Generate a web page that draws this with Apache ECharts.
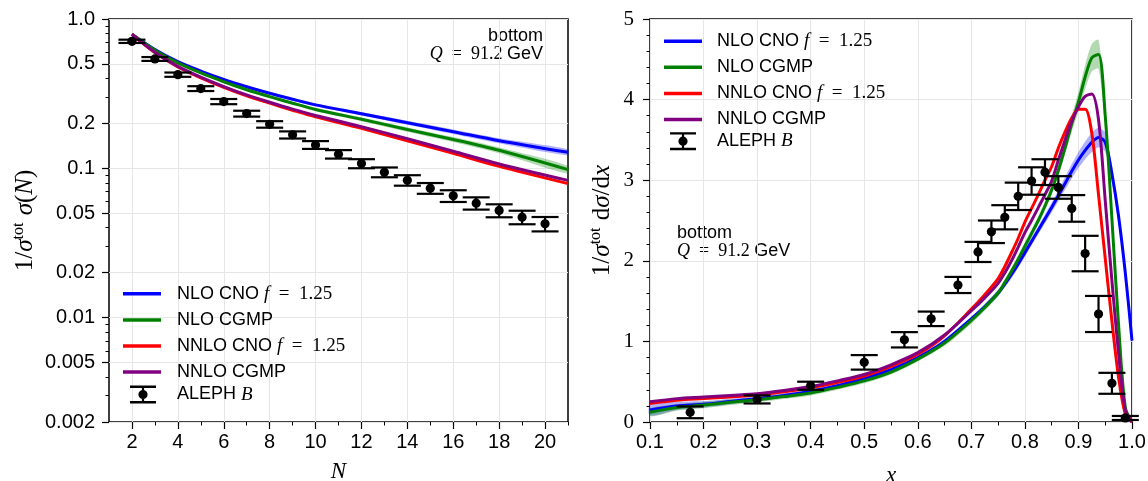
<!DOCTYPE html>
<html>
<head>
<meta charset="utf-8">
<title>bottom fragmentation</title>
<script src="https://cdn.jsdelivr.net/npm/echarts@6/dist/echarts.min.js"></script>
<style>
html, body { margin: 0; padding: 0; background: #fff; }
#chart { width: 1148px; height: 481px; }
</style>
</head>
<body>
<div id="chart"></div>
<script>
// ---- left panel: moments 1/sigma sigma(N) ----
var momentN = [2, 3, 4, 5, 6, 7, 8, 9, 10, 12, 14, 16, 18, 21];
var momNloCno   = [0.79, 0.624, 0.518, 0.448, 0.394, 0.352, 0.318, 0.290, 0.266, 0.232, 0.202, 0.176, 0.153, 0.128];
var momNloCgmp  = [0.79, 0.618, 0.508, 0.435, 0.380, 0.336, 0.302, 0.273, 0.248, 0.213, 0.182, 0.156, 0.132, 0.098];
var momNnloCno  = [0.79, 0.596, 0.478, 0.404, 0.349, 0.306, 0.273, 0.245, 0.221, 0.185, 0.153, 0.126, 0.103, 0.079];
var momNnloCgmp = [0.79, 0.599, 0.482, 0.408, 0.353, 0.310, 0.277, 0.249, 0.226, 0.190, 0.158, 0.130, 0.107, 0.083];
var momBandCno  = [0.005, 0.005, 0.005, 0.005, 0.006, 0.006, 0.006, 0.006, 0.006, 0.006, 0.006, 0.006, 0.006, 0.006];
var momBandCgmp = [0.005, 0.005, 0.005, 0.005, 0.006, 0.006, 0.006, 0.006, 0.006, 0.006, 0.006, 0.006, 0.006, 0.006];

var alephN   = [2, 3, 4, 5, 6, 7, 8, 9, 10, 11, 12, 13, 14, 15, 16, 17, 18, 19, 20];
var alephMom = [0.709, 0.540, 0.424, 0.342, 0.280, 0.2325, 0.197, 0.1675, 0.1435, 0.1243, 0.1076,
                0.0942, 0.0832, 0.0736, 0.0654, 0.0584, 0.0522, 0.0471, 0.0425];
var alephMomErr = [0.018, 0.016, 0.014, 0.0127, 0.0112, 0.0105, 0.0099, 0.0092, 0.0086, 0.0081, 0.0075,
                   0.0071, 0.0067, 0.0061, 0.0059, 0.0055, 0.0052, 0.0049, 0.0047];

var leftYTicks  = [0.002, 0.005, 0.01, 0.02, 0.05, 0.1, 0.2, 0.5, 1.0];
var leftYMinor  = [0.003, 0.004, 0.006, 0.007, 0.008, 0.009, 0.03, 0.04, 0.06, 0.07, 0.08, 0.09,
                   0.3, 0.4, 0.6, 0.7, 0.8, 0.9];
var leftXTicks  = [2, 4, 6, 8, 10, 12, 14, 16, 18, 20];
var leftXMinor  = [3, 5, 7, 9, 11, 13, 15, 17, 19, 21];

// ---- right panel: distribution 1/sigma dsigma/dx ----
var distX = [0.1, 0.15, 0.2, 0.25, 0.3, 0.35, 0.4, 0.45, 0.5, 0.55, 0.6, 0.65, 0.7, 0.725,
             0.75, 0.7625, 0.775, 0.7875, 0.8, 0.8125, 0.825, 0.8375, 0.85, 0.8625, 0.875, 0.8875,
             0.9, 0.9125, 0.925, 0.9375, 0.95, 0.9625, 0.975, 0.9875, 1.0];
var distNloCno   = [0.15, 0.20, 0.22, 0.255, 0.29, 0.33, 0.38, 0.45, 0.54, 0.65, 0.80, 1.00, 1.28, 1.43,
                    1.60, 1.71, 1.83, 1.96, 2.10, 2.24, 2.38, 2.52, 2.66, 2.81, 2.96, 3.11,
                    3.25, 3.37, 3.47, 3.53, 3.47, 3.08, 2.55, 1.85, 1.01];
var distNloCgmp  = [0.12, 0.18, 0.21, 0.245, 0.275, 0.315, 0.36, 0.43, 0.51, 0.62, 0.78, 0.98, 1.26, 1.42,
                    1.60, 1.73, 1.87, 2.02, 2.18, 2.34, 2.50, 2.68, 2.88, 3.12, 3.40, 3.70,
                    3.97, 4.28, 4.52, 4.56, 3.80, 2.52, 1.20, 0.18, 0];
var distNnloCno  = [0.23, 0.27, 0.29, 0.31, 0.335, 0.375, 0.425, 0.49, 0.57, 0.69, 0.84, 1.07, 1.40, 1.58,
                    1.78, 1.93, 2.10, 2.28, 2.48, 2.65, 2.82, 3.00, 3.17, 3.40, 3.60, 3.77,
                    3.88, 3.88, 3.58, 2.82, 2.03, 1.25, 0.55, 0.10, 0];
var distNnloCgmp = [0.25, 0.29, 0.31, 0.33, 0.35, 0.39, 0.44, 0.51, 0.59, 0.71, 0.86, 1.08, 1.38, 1.54,
                    1.72, 1.85, 2.00, 2.17, 2.35, 2.50, 2.66, 2.82, 2.99, 3.25, 3.50, 3.73,
                    3.91, 4.04, 4.07, 3.75, 2.75, 1.75, 0.85, 0.15, 0];
var distBandCno  = [0.07, 0.05, 0.04, 0.035, 0.03, 0.03, 0.03, 0.03, 0.03, 0.03, 0.03, 0.03, 0.03, 0.035,
                    0.04, 0.042, 0.045, 0.048, 0.05, 0.05, 0.05, 0.055, 0.06, 0.07, 0.08, 0.09,
                    0.10, 0.11, 0.12, 0.12, 0.12, 0.11, 0.10, 0.09, 0.09];
var distBandCgmp = [0.05, 0.04, 0.04, 0.035, 0.03, 0.03, 0.03, 0.03, 0.03, 0.03, 0.03, 0.035, 0.04, 0.04,
                    0.04, 0.042, 0.045, 0.048, 0.05, 0.05, 0.05, 0.055, 0.06, 0.07, 0.08, 0.10,
                    0.12, 0.15, 0.17, 0.18, 0.15, 0.10, 0.05, 0.02, 0];

var alephX    = [0.175, 0.3, 0.4, 0.5, 0.575, 0.625, 0.675, 0.7125, 0.7375, 0.7625, 0.7875, 0.8125,
                 0.8375, 0.8625, 0.8875, 0.9125, 0.9375, 0.9625, 0.9875];
var alephDist = [0.12, 0.28, 0.45, 0.74, 1.02, 1.28, 1.70, 2.11, 2.36, 2.54, 2.80, 2.99,
                 3.10, 2.91, 2.65, 2.09, 1.34, 0.48, 0.05];
var alephDistErr = [0.073, 0.05, 0.05, 0.09, 0.095, 0.09, 0.10, 0.125, 0.14, 0.15, 0.17, 0.17,
                    0.16, 0.14, 0.165, 0.22, 0.224, 0.13, 0.025];

var rightXTicks = [0.1, 0.2, 0.3, 0.4, 0.5, 0.6, 0.7, 0.8, 0.9, 1.0];
var rightXMinor = [0.15, 0.25, 0.35, 0.45, 0.55, 0.65, 0.75, 0.85, 0.95];
var rightYMinor = [0.2, 0.4, 0.6, 0.8, 1.2, 1.4, 1.6, 1.8, 2.2, 2.4, 2.6, 2.8, 3.2, 3.4, 3.6, 3.8, 4.2, 4.4, 4.6, 4.8];

var names = ['NLO CNO f = 1.25', 'NLO CGMP', 'NNLO CNO f = 1.25', 'NNLO CGMP'];
var colors = ['#0000ff', '#008000', '#ff0000', '#800080'];
var dataName = 'ALEPH B';

var SANS = 'Liberation Sans';
var SERIF = 'Liberation Serif';

function pairs(xs, ys) {
    return xs.map(function (x, i) { return [x, ys[i]]; });
}

function bandSeries(xs, ys, half, color, gi, floor) {
    return {
        type: 'custom', xAxisIndex: gi * 2, yAxisIndex: gi * 2, silent: true, z: 2,
        data: [[xs[0], ys[0]]],
        renderItem: function (params, api) {
            var upper = [], lower = [];
            for (var i = 0; i < xs.length; i++) {
                upper.push(api.coord([xs[i], ys[i] + half[i]]));
                lower.unshift(api.coord([xs[i], Math.max(ys[i] - half[i], floor)]));
            }
            return {
                type: 'polygon',
                shape: { points: upper.concat(lower), smooth: 0.25 },
                style: { fill: color, opacity: 0.3 }
            };
        }
    };
}

function lineSeries(name, xs, ys, color, gi) {
    return {
        name: name, type: 'line', xAxisIndex: gi * 2, yAxisIndex: gi * 2,
        data: pairs(xs, ys), smooth: 0.3, showSymbol: false, z: 3,
        lineStyle: { color: color, width: 3 }, itemStyle: { color: color }
    };
}

function errorSeries(xs, ys, errs, gi) {
    return {
        name: dataName, type: 'custom', xAxisIndex: gi * 2, yAxisIndex: gi * 2, z: 5,
        itemStyle: { color: '#000' },
        data: xs.map(function (x, i) { return [x, ys[i], ys[i] - errs[i], ys[i] + errs[i]]; }),
        renderItem: function (params, api) {
            var c = api.coord([api.value(0), api.value(1)]);
            var lo = api.coord([api.value(0), api.value(2)]);
            var hi = api.coord([api.value(0), api.value(3)]);
            var w = 13.5, st = { stroke: '#000', lineWidth: 2.2 };
            return {
                type: 'group',
                children: [
                    { type: 'line', shape: { x1: c[0], y1: lo[1], x2: c[0], y2: hi[1] }, style: st },
                    { type: 'line', shape: { x1: c[0] - w, y1: lo[1], x2: c[0] + w, y2: lo[1] }, style: st },
                    { type: 'line', shape: { x1: c[0] - w, y1: hi[1], x2: c[0] + w, y2: hi[1] }, style: st },
                    { type: 'circle', shape: { cx: c[0], cy: c[1], r: 4.6 }, style: { fill: '#000' } }
                ]
            };
        }
    };
}

// legend text: sans words, serif math
var legendRich = {
    t: { fontFamily: SANS, fontSize: 18, lineHeight: 20, color: '#000' },
    m: { fontFamily: SERIF, fontStyle: 'italic', fontSize: 19, lineHeight: 20, color: '#000' },
    n: { fontFamily: SERIF, fontSize: 19, lineHeight: 20, color: '#000' }
};
function legendLabel(name) {
    var p = name.split(' f = ');
    if (p.length === 2) return '{t|' + p[0] + ' }{m|f}{n|  =  ' + p[1] + '}';
    if (name === dataName) return '{t|ALEPH }{m|B}';
    return '{t|' + name + '}';
}
var errIcon = 'path://M0,0H26V2.4H0Z M0,15.6H26V18H0Z M11.9,0H14.1V18H11.9Z M13,4.4A4.6,4.6,0,1,1,13,13.6A4.6,4.6,0,1,1,13,4.4Z';

function lineLegend(left, top, padLeft) {
    return {
        orient: 'vertical', left: left, top: top, padding: 0, itemGap: 7.6,
        itemWidth: 38, itemHeight: 3.5, icon: 'rect', selectedMode: false,
        data: names, formatter: legendLabel,
        textStyle: { padding: [0, 0, 0, padLeft], rich: legendRich }
    };
}
function dataLegend(left, top, padLeft) {
    return {
        orient: 'vertical', left: left, top: top, padding: 0,
        itemWidth: 26, itemHeight: 18, selectedMode: false,
        data: [{ name: dataName, icon: errIcon }], formatter: legendLabel,
        textStyle: { padding: [0, 0, 0, padLeft], rich: legendRich }
    };
}

var tickStyle = { show: true, length: 7, lineStyle: { color: '#000', width: 1.2 } };
var gridLine = { show: true, lineStyle: { color: '#e6e6e6', width: 1 } };

function minorAxis(type, gi, min, max, values, pos) {
    return {
        type: type, gridIndex: gi, min: min, max: max, position: pos,
        axisLine: { show: false }, splitLine: { show: false },
        axisLabel: { show: false },
        axisTick: { show: true, length: 3.5, customValues: values, lineStyle: { color: '#000', width: 1 } }
    };
}

var yNameRich = {
    r: { fontFamily: SERIF, fontSize: 25, color: '#000' },
    i: { fontFamily: SERIF, fontStyle: 'italic', fontSize: 25, color: '#000' },
    s: { fontFamily: SERIF, fontSize: 16, color: '#000', padding: [0, 1, 12, 0] }
};

var annotRich = {
    m: { fontFamily: SERIF, fontStyle: 'italic', fontSize: 18, lineHeight: 20 },
    n: { fontFamily: SERIF, fontSize: 18, lineHeight: 20 },
    t: { fontFamily: SANS, fontSize: 18, lineHeight: 20 }
};
var annotText = '{m|Q}{n|  =  91.2 }{t|GeV}';

var chart = echarts.init(document.getElementById('chart'));

var series = [];
series.push(bandSeries(momentN, momNloCno, momBandCno, colors[0], 0, 0.001));
series.push(bandSeries(momentN, momNloCgmp, momBandCgmp, colors[1], 0, 0.001));
series.push(bandSeries(distX, distNloCno, distBandCno, colors[0], 1, 0));
series.push(bandSeries(distX, distNloCgmp, distBandCgmp, colors[1], 1, 0));
var momCurves = [momNloCno, momNloCgmp, momNnloCno, momNnloCgmp];
var distCurves = [distNloCno, distNloCgmp, distNnloCno, distNnloCgmp];
for (var k = 0; k < 4; k++) {
    series.push(lineSeries(names[k], momentN, momCurves[k], colors[k], 0));
    series.push(lineSeries(names[k], distX, distCurves[k], colors[k], 1));
}
series.push(errorSeries(alephN, alephMom, alephMomErr, 0));
series.push(errorSeries(alephX, alephDist, alephDistErr, 1));

var option = {
    backgroundColor: '#fff',
    animation: false,
    grid: [
        { left: 109, top: 19, width: 459, height: 403, show: true, borderColor: '#000', borderWidth: 1.5,
          backgroundColor: 'transparent', containLabel: false, outerBoundsMode: 'none' },
        { left: 650, top: 19, width: 482, height: 403, show: true, borderColor: '#000', borderWidth: 1.5,
          backgroundColor: 'transparent', containLabel: false, outerBoundsMode: 'none' }
    ],
    xAxis: [
        {
            type: 'value', gridIndex: 0, min: 1, max: 21,
            axisLine: { show: false },
            axisTick: Object.assign({ customValues: leftXTicks }, tickStyle),
            axisLabel: { customValues: leftXTicks, margin: 10, fontFamily: SANS, fontSize: 20, color: '#000' },
            splitLine: gridLine,
            name: 'N', nameLocation: 'middle', nameGap: 38,
            nameTextStyle: { fontFamily: SERIF, fontStyle: 'italic', fontSize: 23, color: '#000' }
        },
        minorAxis('value', 0, 1, 21, leftXMinor, 'bottom'),
        {
            type: 'value', gridIndex: 1, min: 0.1, max: 1.0,
            axisLine: { show: false },
            axisTick: Object.assign({ customValues: rightXTicks }, tickStyle),
            axisLabel: {
                customValues: rightXTicks, margin: 10, fontFamily: SANS, fontSize: 20, color: '#000',
                formatter: function (v) { return v.toFixed(1); }
            },
            splitLine: gridLine,
            name: 'x', nameLocation: 'middle', nameGap: 42,
            nameTextStyle: { fontFamily: SERIF, fontStyle: 'italic', fontSize: 23, color: '#000' }
        },
        minorAxis('value', 1, 0.1, 1.0, rightXMinor, 'bottom')
    ],
    yAxis: [
        {
            type: 'log', logBase: 10, gridIndex: 0, min: 0.002, max: 1,
            axisLine: { show: false },
            axisTick: Object.assign({ customValues: leftYTicks }, tickStyle),
            axisLabel: {
                customValues: leftYTicks, margin: 14, fontFamily: SANS, fontSize: 20, color: '#000',
                formatter: function (v) { return v === 1 ? '1.0' : String(v); }
            },
            splitLine: gridLine,
            name: '{r|1/}{i|σ}{s|tot}{r| }{i|σ}{r|(}{i|N}{r|)}', nameLocation: 'middle', nameGap: 70,
            nameTextStyle: { rich: yNameRich }
        },
        minorAxis('log', 0, 0.002, 1, leftYMinor, 'left'),
        {
            type: 'value', gridIndex: 1, min: 0, max: 5, interval: 1,
            axisLine: { show: false },
            axisTick: tickStyle,
            axisLabel: { margin: 16, fontFamily: SERIF, fontSize: 21, color: '#000' },
            splitLine: gridLine,
            name: '{r|1/}{i|σ}{s|tot}{r| d}{i|σ}{r|/d}{i|x}', nameLocation: 'middle', nameGap: 34,
            nameTextStyle: { rich: yNameRich }
        },
        minorAxis('value', 1, 0, 5, rightYMinor, 'left')
    ],
    legend: [
        lineLegend(123, 284.3, 11),
        dataLegend(130, 385, 16),
        lineLegend(664, 31.7, 10),
        dataLegend(670, 131.7, 16)
    ],
    graphic: [
        { type: 'text', right: 1148 - 543, top: 27, style: { text: 'bottom', font: '18px ' + SANS, fill: '#000' } },
        { type: 'text', right: 1148 - 543, top: 45, style: { text: annotText, rich: annotRich } },
        { type: 'text', left: 677, top: 224, style: { text: 'bottom', font: '18px ' + SANS, fill: '#000' } },
        { type: 'text', left: 677, top: 242, style: { text: annotText, rich: annotRich } }
    ],
    series: series
};
chart.setOption(option);
</script>
</body>
</html>
